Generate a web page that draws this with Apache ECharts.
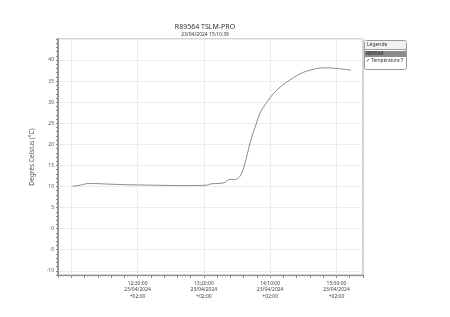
<!DOCTYPE html>
<html><head><meta charset="utf-8">
<script src="https://cdn.jsdelivr.net/npm/echarts@6/dist/echarts.min.js"></script>
<style>html,body{margin:0;padding:0;background:#fff}#c{width:450px;height:317px}</style>
</head><body><div id="c"></div>
<script>
// time in minutes since midnight (23/04/2024, +02:00)
var times = [701,705,709,713,718,725,735,745,755,765,775,785,795,802,805,809,813,816,818,820,823,825,827,829,831,833,835,837,840,842,845,850,855,860,865,870,875,880,885,890,895,900,905,911];
var temps = [10.1,10.2,10.5,10.7,10.7,10.6,10.5,10.4,10.35,10.3,10.25,10.2,10.25,10.3,10.6,10.7,10.75,11.0,11.5,11.7,11.6,11.8,12.3,13.5,15.5,18.0,20.5,22.6,25.3,27.2,28.9,31.1,32.9,34.2,35.3,36.3,37.1,37.6,38.0,38.15,38.15,38.0,37.85,37.6];
var xLabelTimes = [750,800,850,900];
var yLabelValues = [-10,-5,0,5,10,15,20,25,30,35,40];
var seriesName = 'Température 7';
var titleText = 'R89564 TSLM-PRO';
var subText = '23/04/2024 15:10:39';

var font = 'Noto Sans';
var pts = times.map(function(t,i){return [t,temps[i]];});
function pad(n){return (n<10?'0':'')+n;}
var gridCols = ['rgba(0,0,0,0)','#ececec','rgba(0,0,0,0)','rgba(0,0,0,0)','rgba(0,0,0,0)'];

var chart = echarts.init(document.getElementById('c'));
chart.setOption({
  animation:false,
  title:{text:titleText, subtext:subText, left:200, top:18, textAlign:'center', itemGap:2,
    textStyle:{fontFamily:font,fontSize:7,fontWeight:'normal',color:'#333'},
    subtextStyle:{fontFamily:font,fontSize:5,color:'#333'}},
  grid:{left:58, right:87, top:39, bottom:42, show:true, borderColor:'#a8a8a8', borderWidth:1},
  legend:{data:[seriesName], left:361, top:58, padding:0, icon:'none', itemWidth:0, itemHeight:0, itemGap:0,
    lineStyle:{opacity:0, width:0}, itemStyle:{opacity:0},
    formatter:'✓ {name}', textStyle:{fontFamily:font,fontSize:4.7,color:'#333', padding:0}},
  graphic:[
    {type:'rect', z:-1, shape:{x:364.5,y:40.5,width:42,height:29,r:2}, style:{fill:'#fff',stroke:'#9a9a9a',lineWidth:1}},
    {type:'rect', shape:{x:365,y:41,width:41,height:8}, style:{fill:'#f2f2f2'}},
    {type:'line', shape:{x1:364.5,y1:49.5,x2:406.5,y2:49.5}, style:{stroke:'#9a9a9a',lineWidth:1}},
    {type:'text', x:367, y:42, style:{text:'Légende', font:'5px '+font, fill:'#333'}},
    {type:'rect', shape:{x:365,y:51,width:41,height:6}, style:{fill:'#8c8c8c'}},
    {type:'text', x:366, y:51.5, style:{text:'R89564', font:'5px '+font, fill:'#111'}}
  ],
  xAxis:{type:'value', min:690, max:920, interval:10,
    axisLine:{show:true, onZero:false, lineStyle:{color:'#888',width:1}},
    axisTick:{show:true, length:3, lineStyle:{color:'#888'}},
    minorTick:{show:true, splitNumber:5, length:1.5, lineStyle:{color:'#999'}},
    splitLine:{show:true, lineStyle:{color:gridCols, width:1}},
    axisLabel:{fontFamily:font, fontSize:5, color:'#444', lineHeight:6.5, margin:5,
      formatter:function(v){
        if(xLabelTimes.indexOf(v)<0) return '';
        return pad(Math.floor(v/60))+':'+pad(v%60)+':00\n23/04/2024\n+02:00';
      }}},
  yAxis:{type:'value', min:-11, max:45, interval:1,
    name:'Degrés Celsius (°C)', nameLocation:'middle', nameGap:13,
    nameTextStyle:{fontFamily:font, fontSize:6.5, color:'#555'},
    axisLine:{show:true, onZero:false, lineStyle:{color:'#999',width:2}},
    axisTick:{show:true, length:2, lineStyle:{color:'#888'}},
    splitLine:{show:true, lineStyle:{color:gridCols, width:1}},
    axisLabel:{fontFamily:font, fontSize:5, color:'#555', margin:4,
      formatter:function(v){return yLabelValues.indexOf(v)>=0 ? String(v) : '';}}},
  series:[{name:seriesName, type:'line', data:pts, showSymbol:false, smooth:0.3,
    lineStyle:{color:'#8a8a8a', width:1}, itemStyle:{color:'#8a8a8a'}}]
});
</script></body></html>
